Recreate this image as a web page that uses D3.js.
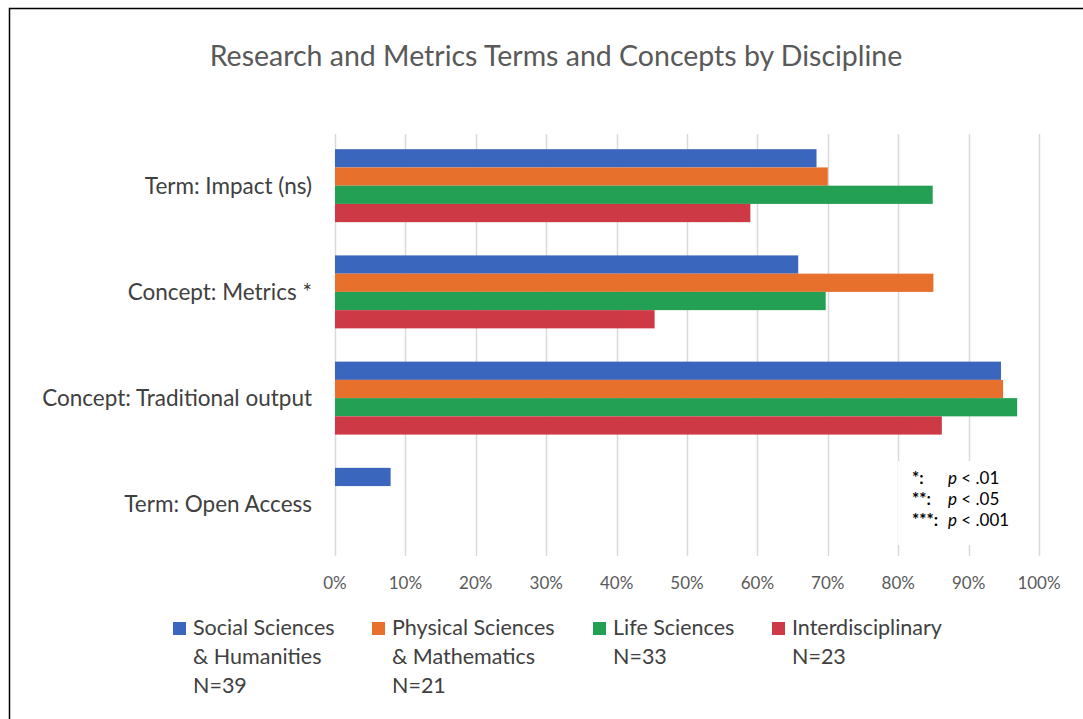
<!DOCTYPE html>
<html lang="en">
<head>
<meta charset="utf-8">
<title>Research and Metrics Terms and Concepts by Discipline</title>
<script src="https://d3js.org/d3.v7.min.js"></script>
<style>
body { margin:0; background:#fff; }
svg text { font-family: Lato, "Open Sans", sans-serif; }
</style>
</head>
<body>
<div id="chart"></div>
<script>
// data
var categories = ["Term: Impact (ns)", "Concept: Metrics *", "Concept: Traditional output", "Term: Open Access"];
var series = ["Social Sciences & Humanities", "Physical Sciences & Mathematics", "Life Sciences", "Interdisciplinary"];
var socialHum   = [0.684, 0.658, 0.946, 0.079];
var physMath    = [0.700, 0.850, 0.949, 0];
var lifeSci     = [0.849, 0.697, 0.969, 0];
var interdisc   = [0.590, 0.454, 0.862, 0];
var values = [socialHum, physMath, lifeSci, interdisc];
var legendLines = [["Social Sciences", "& Humanities", "N=39"], ["Physical Sciences", "& Mathematics", "N=21"], ["Life Sciences", "N=33"], ["Interdisciplinary", "N=23"]];
var xTicks = [0, 0.1, 0.2, 0.3, 0.4, 0.5, 0.6, 0.7, 0.8, 0.9, 1];
var sigStars = ["*:", "**:", "***:"];
var sigLevels = [".01", ".05", ".001"];

var colors = ["#3a67bd", "#e8702d", "#24a054", "#cd3a46"];
var W = 1083, H = 719;

var svg = d3.select("#chart").append("svg").attr("width", W).attr("height", H);

// frame (only top/left visible in the crop)
svg.append("path").attr("d", "M9.5," + H + "V8.5H" + W)
    .attr("fill", "none").attr("stroke", "#000").attr("stroke-width", 1.5);

svg.append("text").attr("x", 556).attr("y", 66).attr("text-anchor", "middle")
    .attr("fill", "#595959").style("font-size", "28.5px")
    .text("Research and Metrics Terms and Concepts by Discipline");

var x = d3.scaleLinear().domain([0, 1]).range([335, 1039]);
var y = d3.scaleBand().domain(categories).range([134, 556]).paddingInner(0.313).paddingOuter(0.143);
var ys = d3.scaleBand().domain(series).range([0, y.bandwidth()]);

// gridlines
svg.append("g").selectAll("line").data(xTicks).enter().append("line")
    .attr("x1", function(d){ return Math.round(x(d)) + 0.5; })
    .attr("x2", function(d){ return Math.round(x(d)) + 0.5; })
    .attr("y1", 134).attr("y2", 556)
    .attr("stroke", "#d9d9d9").attr("stroke-width", 1.5);

// bars
var groups = svg.append("g").selectAll("g").data(categories).enter().append("g")
    .attr("transform", function(d){ return "translate(0," + y(d) + ")"; });
groups.selectAll("rect").data(function(c, ci){
        return series.map(function(s, si){ return {s:s, si:si, v:values[si][ci]}; }).filter(function(d){ return d.v > 0; });
    }).enter().append("rect")
    .attr("x", x(0))
    .attr("y", function(d){ return ys(d.s); })
    .attr("width", function(d){ return x(d.v) - x(0); })
    .attr("height", ys.bandwidth())
    .attr("fill", function(d){ return colors[d.si]; });

// category labels
svg.append("g").selectAll("text").data(categories).enter().append("text")
    .attr("x", 312).attr("y", function(d){ return y(d) + y.bandwidth()/2; })
    .attr("dy", "0.35em").attr("text-anchor", "end")
    .attr("fill", "#404040").style("font-size", "22.5px")
    .text(function(d){ return d; });

// x tick labels
svg.append("g").selectAll("text").data(xTicks).enter().append("text")
    .attr("x", function(d){ return x(d); }).attr("y", 583).attr("dy", "0.35em")
    .attr("text-anchor", "middle").attr("fill", "#595959").style("font-size", "17px")
    .text(d3.format(".0%"));

// significance box
var sig = svg.append("g");
sig.append("rect").attr("x", 898).attr("y", 461).attr("width", 122).attr("height", 84).attr("fill", "#fff");
sigStars.forEach(function(s, i){
    var yy = 484 + i * 21;
    sig.append("text").attr("x", 912).attr("y", yy).attr("fill", "#000")
        .style("font-size", "17px").style("font-weight", "bold").text(s);
    var t = sig.append("text").attr("x", 948).attr("y", yy).attr("fill", "#000").style("font-size", "17px");
    t.append("tspan").style("font-style", "italic").text("p");
    t.append("tspan").text(" < " + sigLevels[i]);
});

// legend
var legX = [173, 372, 593, 772];
var leg = svg.append("g").selectAll("g").data(series).enter().append("g")
    .attr("transform", function(d, i){ return "translate(" + legX[i] + ",0)"; });
leg.append("rect").attr("x", 0).attr("y", 622).attr("width", 13).attr("height", 13)
    .attr("fill", function(d, i){ return colors[i]; });
leg.each(function(d, i){
    var g = d3.select(this);
    legendLines[i].forEach(function(line, j){
        g.append("text").attr("x", 20).attr("y", 635 + j * 29)
            .attr("fill", "#404040").style("font-size", "21.5px").text(line);
    });
});
</script>
</body>
</html>
